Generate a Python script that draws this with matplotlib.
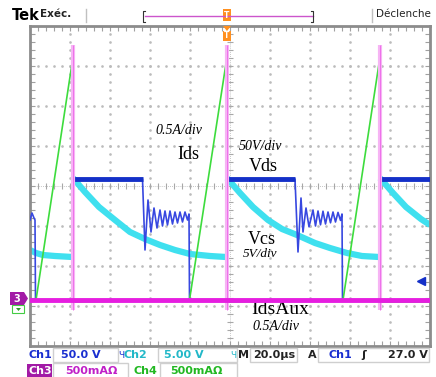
import numpy as np
import matplotlib.pyplot as plt
from matplotlib.patches import Rectangle, Polygon
from matplotlib.lines import Line2D

# scope capture: 20us/div, 10 div wide, 8 div high
# time in microseconds, levels in screen divisions (0 = centre line)

# ch1 - Vds (blue)
vds_t = [0, 1, 2, 2.5, 2.75, 21.5, 21.6, 56.25, 57.5, 59, 60.5, 62, 63.5, 65, 66.25,
         67.5, 68.75, 70, 71.25, 72.5, 73.75, 75, 76.25, 77.5, 78.75, 79.5, 79.75,
         98.5, 98.6, 132.5, 134, 135.5, 136.5, 138, 139.5, 141.5, 142.75, 144, 145.25,
         146.5, 147.75, 149, 150.25, 151.5, 152.75, 154, 155.25, 156, 156.25,
         175, 175.1, 200]
vds_y = [-0.85, -0.675, -0.8, -0.85, -2.85, -2.85, 0.175, 0.175, -1.6, -0.35, -1.15, -0.55, -1.05, -0.6, -1.0,
         -0.625, -0.975, -0.625, -0.95, -0.65, -0.925, -0.65, -0.9, -0.65, -0.85, -0.7, -2.85,
         -2.85, 0.175, 0.175, -1.65, -0.3, -1.15, -0.55, -1.02, -0.6, -1.0, -0.625, -0.97,
         -0.63, -0.95, -0.65, -0.92, -0.65, -0.9, -0.66, -0.86, -0.7, -2.85,
         -2.85, 0.175, 0.175]
vds_high_start = [21.6, 98.6, 175.1]
vds_high_end = [56.25, 132.5, 200]
vds_high = 0.175

# ch2 - Vcs (cyan), None = break at the switching edge
vcs_t = [0, 3, 6.5, 12.5, 21.25, None, 21.5, 27.5, 34.5, 42.5, 50, 57.5, 65, 72.5, 80, 90, 98, None,
         98.5, 105, 111.5, 119, 126, 133.5, 142.5, 150, 158.5, 166, 174.5, None,
         175, 181.5, 188, 195.5, 200]
vcs_y = [-1.6, -1.675, -1.725, -1.75, -1.775, None, 0.2, -0.15, -0.525, -0.85, -1.15, -1.325, -1.475, -1.6, -1.7, -1.75, -1.775, None,
         0.2, -0.175, -0.525, -0.85, -1.075, -1.225, -1.425, -1.55, -1.675, -1.75, -1.775, None,
         0.2, -0.175, -0.525, -0.825, -0.975]

# ch4 - Ids (green)
ids_t = [0, 3, 21.5, 21.6, 79.75, 98.5, 98.6, 156.5, 175, 175.1, 200]
ids_y = [-2.9, -2.85, 3.225, -2.9, -2.85, 3.225, -2.9, -2.85, 3.225, -2.9, -2.9]

# ch3 - IdsAux (magenta)
aux_t = [0, 200]
aux_y = [-2.85, -2.85]
spike_t = [21.5, 98.5, 175.0]
spike_top = 3.525
spike_bot = -3.1

W, H = 436, 377
fig = plt.figure(figsize=(W / 100, H / 100), dpi=100)
fig.patch.set_facecolor('white')


def fx(x):
    return x / W


def fy(y):
    return 1 - y / H


def ptext(x, y, s, **kw):
    fig.text(fx(x), fy(y), s, **kw)


def pbox(x0, y0, x1, y1, **kw):
    fig.patches.append(Rectangle((fx(x0), fy(y1)), (x1 - x0) / W, (y1 - y0) / H,
                                 transform=fig.transFigure, **kw))


def pline(xs, ys, **kw):
    fig.lines.append(Line2D([fx(v) for v in xs], [fy(v) for v in ys],
                            transform=fig.transFigure, **kw))


ax = fig.add_axes([fx(30), fy(346), 400 / W, 320 / H])
ax.set_xlim(0, 200)
ax.set_ylim(-4, 4)
ax.set_xticks(np.arange(0, 201, 20))
ax.set_xticks(np.arange(0, 201, 4), minor=True)
ax.set_yticks(np.arange(-4, 4.01, 1))
ax.set_yticks(np.arange(-4, 4.01, 0.2), minor=True)
ax.tick_params(which='both', direction='in', top=True, right=True, labelbottom=False,
               labelleft=False, color='#a0a0a0', length=3.5, width=0.8)
for sp in ax.spines.values():
    sp.set_color('#8c8c8c')
    sp.set_linewidth(2)

# graticule dots
ys = np.arange(-4, 4.01, 0.2)
xs = np.arange(0, 200.1, 4)
for gx in range(20, 200, 20):
    if gx != 100:
        ax.plot([gx] * len(ys), ys, ls='none', marker='o', ms=0.9, color='#bcbcbc', zorder=0)
for gy in range(-3, 4):
    if gy != 0:
        ax.plot(xs, [gy] * len(xs), ls='none', marker='o', ms=0.9, color='#bcbcbc', zorder=0)
# centre cross with ticks
ax.plot([100, 100], [-4, 4], color='#b4b4b4', lw=0.6, ls=(0, (1, 1.5)), zorder=0)
ax.plot([0, 200], [0, 0], color='#b4b4b4', lw=0.6, ls=(0, (1, 1.5)), zorder=0)
ax.plot([100] * len(ys), ys, ls='none', marker='_', ms=5, mew=0.8, color='#a8a8a8', zorder=0)
ax.plot(xs, [0] * len(xs), ls='none', marker='|', ms=5, mew=0.8, color='#a8a8a8', zorder=0)

# traces
vcs_tf = [np.nan if v is None else v for v in vcs_t]
vcs_yf = [np.nan if v is None else v for v in vcs_y]
ax.plot(vcs_tf, vcs_yf, color='#3fe0ef', lw=4.5, solid_capstyle='butt', zorder=2)
ax.plot(vds_t, vds_y, color='#3848e0', lw=1.2, zorder=3)
ax.hlines([vds_high] * 3, vds_high_start, vds_high_end, color='#1430c8', lw=3.5, zorder=3)
ax.plot(ids_t, ids_y, color='#3ddc3d', lw=1.2, zorder=4)
ax.vlines(spike_t, spike_bot, spike_top, color='#f6b4f4', lw=3, zorder=5)
ax.vlines(spike_t, spike_bot, spike_top, color='#ee70ea', lw=0.7, zorder=5)
ax.plot(aux_t, aux_y, color='#e61ee0', lw=3.5, zorder=6)

# trigger level arrow (ch1)
ax.plot([195.5], [-2.375], marker='<', ms=6, color='#1430c8', zorder=7)

# annotations
serif = 'Liberation Serif'
ax.text(74.5, 1.4, '0.5A/div', family=serif, style='italic', fontsize=10, ha='center', va='center')
ax.text(79, 0.8, 'Ids', family=serif, fontsize=13, ha='center', va='center')
ax.text(115, 1.0, '50V/div', family=serif, style='italic', fontsize=10, ha='center', va='center')
ax.text(116.5, 0.5, 'Vds', family=serif, fontsize=13, ha='center', va='center')
ax.text(116, -1.325, 'Vcs', family=serif, fontsize=13, ha='center', va='center')
ax.text(115, -1.7, '5V/div', family=serif, style='italic', fontsize=9.5, ha='center', va='center')
ax.text(125, -3.1, 'IdsAux', family=serif, fontsize=14, ha='center', va='center')
ax.text(123, -3.525, '0.5A/div', family=serif, style='italic', fontsize=10, ha='center', va='center')

# top status bar
sans = 'DejaVu Sans'
ptext(12, 15, 'Tek', family=sans, weight='bold', fontsize=10.5, va='center')
ptext(40, 14, 'Exéc.', family=sans, weight='bold', fontsize=7.5, color='#222222', va='center')
pline([86, 86], [9, 22], color='#c0c0c0', lw=1)
pline([372, 372], [9, 22], color='#c0c0c0', lw=1)
ptext(376, 14, 'Déclenche', family=sans, fontsize=7.5, color='#222222', va='center')
pline([145, 313], [16, 16], color='#cc55cc', lw=1)
pline([145, 143, 143, 145], [11, 11, 22, 22], color='#333333', lw=0.8)
pline([311, 313, 313, 311], [11, 11, 22, 22], color='#333333', lw=0.8)
pbox(223, 9, 231, 21, facecolor='#ff9020', edgecolor='none')
ptext(227, 15, 'T', family=sans, weight='bold', fontsize=5.5, color='white', ha='center', va='center')
fig.patches.append(Polygon([(fx(223), fy(26)), (fx(231), fy(26)), (fx(227), fy(31))],
                           closed=True, transform=fig.transFigure, facecolor='#ff9020', edgecolor='none'))
pbox(223, 31, 231, 41, facecolor='#ff9020', edgecolor='none')
ptext(227, 36, 'T', family=sans, weight='bold', fontsize=5.5, color='white', ha='center', va='center')

# channel markers on the left
pbox(10, 292, 24, 305, facecolor='#a21aa6', edgecolor='none')
fig.patches.append(Polygon([(fx(24), fy(292)), (fx(28), fy(298.5)), (fx(24), fy(305))],
                           closed=True, transform=fig.transFigure, facecolor='#a21aa6', edgecolor='none'))
ptext(17, 298.5, '3', family=sans, weight='bold', fontsize=7, color='white', ha='center', va='center')
pbox(12, 305, 24, 313, facecolor='white', edgecolor='#44cc44', lw=0.8)
fig.patches.append(Polygon([(fx(16), fy(308)), (fx(21), fy(308)), (fx(18.5), fy(311))],
                           closed=True, transform=fig.transFigure, facecolor='#2a9a2a', edgecolor='none'))

# bottom status rows
blue, cyan, mag, green = '#1a2fd0', '#22b8c8', '#c020c8', '#22b822'
box_ec = '#cfcfcf'
fs = 8
pbox(53, 348, 118, 362, facecolor='none', edgecolor=box_ec, lw=1)
pbox(158, 348, 237, 362, facecolor='none', edgecolor=box_ec, lw=1)
pbox(250, 348, 297, 362, facecolor='none', edgecolor=box_ec, lw=1)
pbox(318, 348, 429, 362, facecolor='none', edgecolor=box_ec, lw=1)
ptext(28, 355, 'Ch1', family=sans, weight='bold', fontsize=fs, color=blue, va='center')
ptext(101, 355, '50.0 V', family=sans, weight='bold', fontsize=fs, color=blue, va='center', ha='right')
ptext(118, 355, 'Ч', family=sans, fontsize=6.5, color=blue, va='center')
ptext(123, 355, 'Ch2', family=sans, weight='bold', fontsize=fs, color=cyan, va='center')
ptext(204, 355, '5.00 V', family=sans, weight='bold', fontsize=fs, color=cyan, va='center', ha='right')
ptext(230, 355, 'Ч', family=sans, fontsize=6.5, color=cyan, va='center')
ptext(238, 355, 'M', family=sans, weight='bold', fontsize=fs, color='#222222', va='center')
ptext(253, 355, '20.0µs', family=sans, weight='bold', fontsize=fs, color='#222222', va='center')
ptext(308, 355, 'A', family=sans, weight='bold', fontsize=fs, color='#222222', va='center')
ptext(328, 355, 'Ch1', family=sans, weight='bold', fontsize=fs, color=blue, va='center')
ptext(361, 355, 'ʃ', family=sans, weight='bold', fontsize=fs, color='#222222', va='center')
ptext(428, 355, '27.0 V', family=sans, weight='bold', fontsize=fs, color='#222222', va='center', ha='right')

pbox(27, 364, 52, 378, facecolor='#a21aa6', edgecolor='none')
ptext(28.5, 371, 'Ch3', family=sans, weight='bold', fontsize=fs, color='white', va='center')
pbox(53, 363, 128, 378, facecolor='none', edgecolor=box_ec, lw=1)
ptext(65, 371, '500mAΩ', family=sans, weight='bold', fontsize=fs, color=mag, va='center')
ptext(133, 371, 'Ch4', family=sans, weight='bold', fontsize=fs, color=green, va='center')
pbox(160, 363, 237, 378, facecolor='none', edgecolor=box_ec, lw=1)
ptext(170, 371, '500mAΩ', family=sans, weight='bold', fontsize=fs, color=green, va='center')

fig.savefig('out.png', dpi=100)
